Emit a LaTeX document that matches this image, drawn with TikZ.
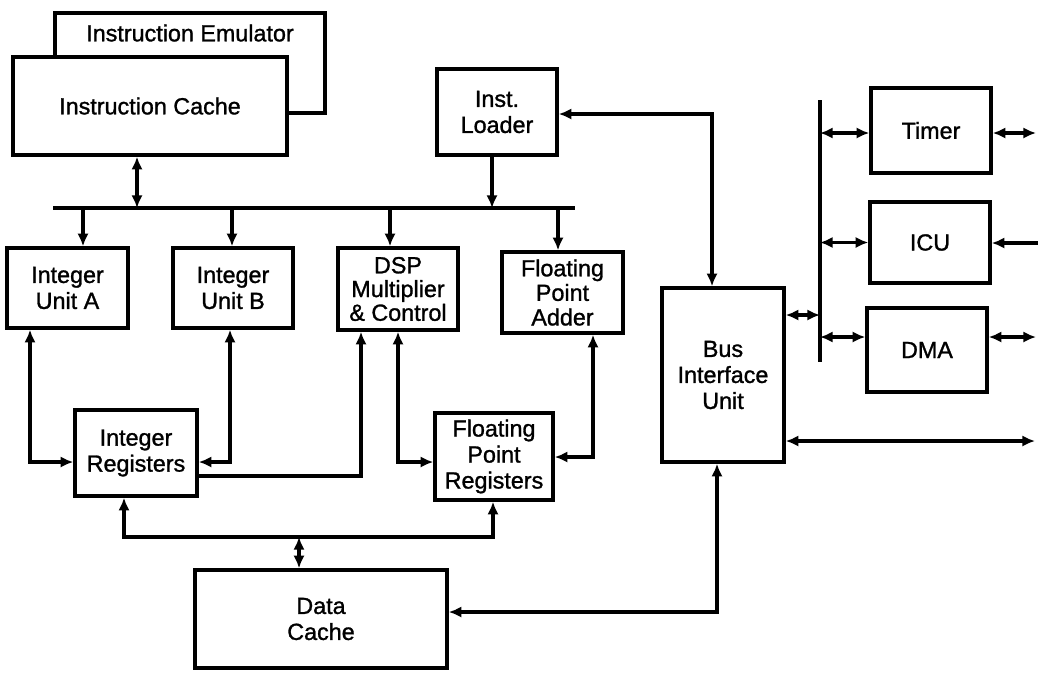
\documentclass[tikz,border=0pt]{standalone}
\usepackage{fontspec}
\setmainfont{Liberation Sans}[FakeBold=1.2]
\usetikzlibrary{arrows.meta}
\begin{document}
\begin{tikzpicture}[x=0.75pt,y=-0.75pt,
 box/.style={draw,line width=2.6pt,inner sep=0pt,align=center,font=\fontsize{17.5}{19.5}\selectfont,fill=white},
 sz/.style 2 args={minimum width=#1*0.75pt,minimum height=#2*0.75pt},
 conn/.style={line width=2.4pt},
 onearr/.style={conn,-{Latex[length=9.5pt,width=8.5pt]}},
 twoarr/.style={conn,{Latex[length=9.5pt,width=8.5pt]}-{Latex[length=9.5pt,width=8.5pt]}},
 lbl/.style={font=\fontsize{17.5}{19.5}\selectfont}]
\useasboundingbox (0,0) rectangle (1038,672);
% boxes
\node[box,sz={270}{100}] (emu) at (190,63) {};
\node[lbl] (emutxt) at (190,33) {Instruction Emulator};
\node[box,sz={274}{98}] (icache) at (150,106) {Instruction Cache};
\node[box,sz={120}{86}] (loader) at (497,112) {Inst.\\Loader};
\node[box,sz={121}{80}] (iua) at (67.5,288) {Integer\\Unit A};
\node[box,sz={120}{80}] (iub) at (233,288) {Integer\\Unit B};
\node[box,sz={120}{82},font=\fontsize{17.5}{17.8}\selectfont] (dsp) at (398,289) {DSP\\Multiplier\\\& Control};
\node[box,sz={121}{81},font=\fontsize{17.5}{18.4}\selectfont] (fpa) at (562.5,292.5) {Floating\\Point\\Adder};
\node[box,sz={122}{86}] (ireg) at (136,453) {Integer\\Registers};
\node[box,sz={118}{87}] (freg) at (494,456.5) {Floating\\Point\\Registers};
\node[box,sz={122}{174}] (biu) at (723,375) {Bus\\Interface\\Unit};
\node[box,sz={120}{85}] (timer) at (931,130.5) {Timer};
\node[box,sz={120}{81}] (icu) at (930,242.5) {ICU};
\node[box,sz={120}{84}] (dma) at (927,350) {DMA};
\node[box,sz={252}{98}] (dcache) at (321,619) {Data\\Cache};
% internal bus
\coordinate (busL) at (53,208);
\coordinate (busR) at (575,208);
\draw[conn] (busL) -- (busR);
\draw[twoarr] (icache.south -| 137,0) -- (busL -| 137,0);
\draw[onearr] (loader.south -| 492,0) -- (busL -| 492,0);
\draw[onearr] (busL -| 83,0) -- (iua.north -| 83,0);
\draw[onearr] (busL -| 232,0) -- (iub.north -| 232,0);
\draw[onearr] (busL -| 390,0) -- (dsp.north -| 390,0);
\draw[onearr] (busL -| 558,0) -- (fpa.north -| 558,0);
% loader - BIU
\draw[twoarr] (biu.north -| 712,0) -- (712,114) -- (loader.east |- 0,114);
% peripheral bus
\coordinate (vbT) at (820,100);
\coordinate (vbB) at (820,362);
\draw[line width=3.2pt] (vbT) -- (vbB);
\draw[twoarr] (biu.east |- 0,315) -- (vbT |- 0,315);
\draw[twoarr] (vbT |- 0,133) -- (timer.west |- 0,133);
\draw[twoarr] (vbT |- icu) -- (icu.west);
\draw[twoarr] (vbT |- 0,337) -- (dma.west |- 0,337);
\coordinate (tR) at (1036,133);
\coordinate (iR) at (1040,243);
\coordinate (dR) at (1036,337);
\coordinate (brR) at (1035,441);
\draw[twoarr] (timer.east |- tR) -- (tR);
\draw[onearr] (iR) -- (icu.east |- iR);
\draw[twoarr] (dma.east |- dR) -- (dR);
\draw[twoarr] (biu.east |- brR) -- (brR);
% BIU - data cache
\draw[twoarr] (biu.south -| 717,0) -- (717,612) -- (dcache.east |- 0,612);
% units - registers
\draw[twoarr] (iua.south -| 30,0) -- (30,462) -- (ireg.west |- 0,462);
\draw[twoarr] (iub.south -| 230,0) -- (230,462) -- (ireg.east |- 0,462);
\draw[onearr] (ireg.east |- 0,476) -- (361,476) -- (dsp.south -| 361,0);
\draw[twoarr] (dsp.south -| 398,0) -- (398,462) -- (freg.west |- 0,462);
\draw[twoarr] (fpa.south -| 593,0) -- (593,457) -- (freg.east |- 0,457);
% registers - data cache
\draw[twoarr] (ireg.south -| 124,0) -- (124,537) -- (493,537) -- (freg.south -| 493,0);
\coordinate (dj) at (299,537);
\draw[twoarr] (dj) -- (dcache.north -| dj);
\end{tikzpicture}
\end{document}
